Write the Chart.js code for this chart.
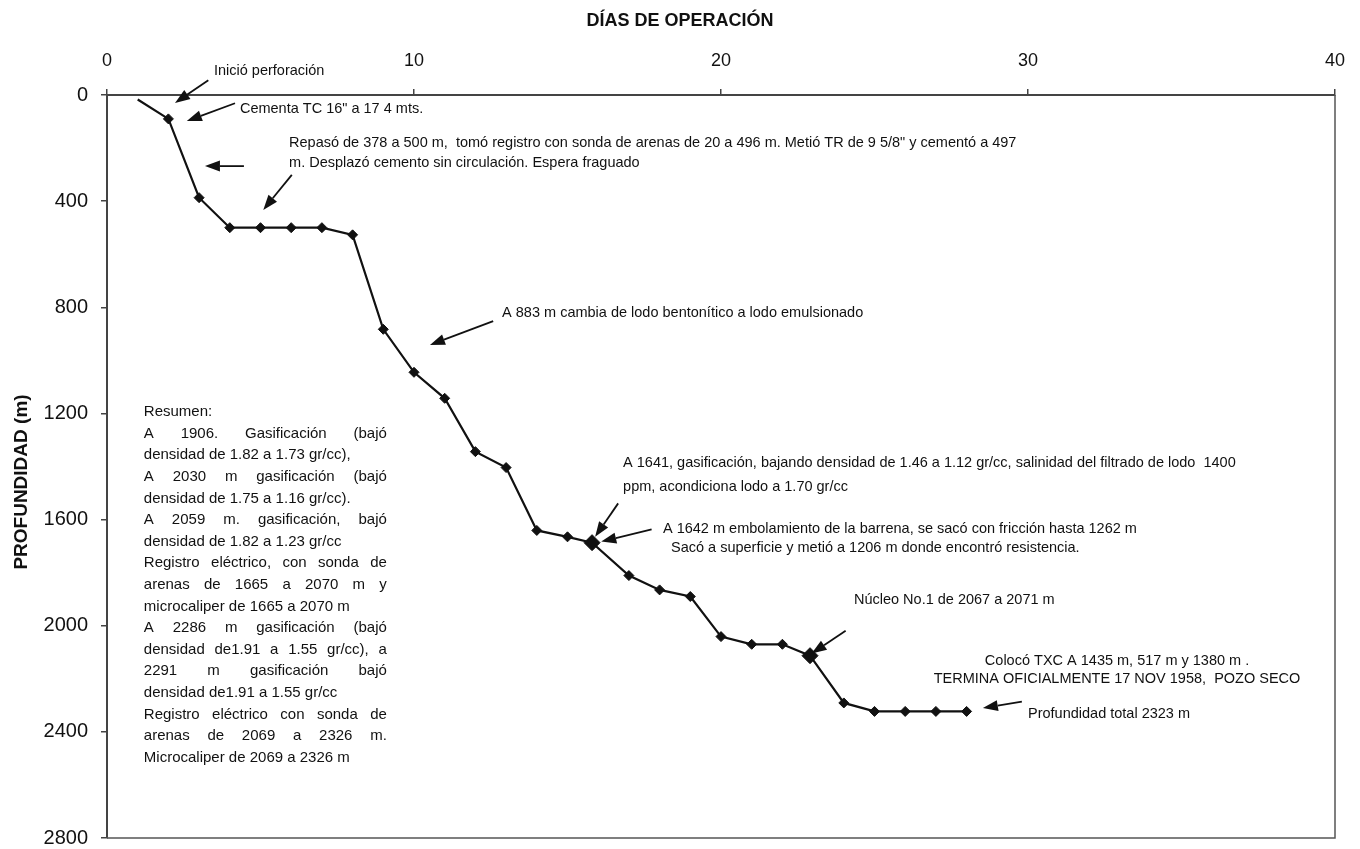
<!DOCTYPE html>
<html>
<head>
<meta charset="utf-8">
<script src="https://cdn.jsdelivr.net/npm/chart.js@4.4.1/dist/chart.umd.min.js"></script>
<style>
  html, body { margin: 0; padding: 0; background: #ffffff; }
  #wrap { width: 1360px; height: 849px; }
</style>
</head>
<body>
<div id="wrap"><canvas id="c" width="1360" height="849"></canvas></div>
<script>
// ---------------- DATA ----------------
const days   = [1, 2, 3, 4, 5, 6, 7, 8, 9, 10, 11, 12, 13, 14, 15, 15.8, 17, 18, 19, 20, 21, 22, 22.9, 24, 25, 26, 27, 28];
const depths = [17, 90, 387, 500, 500, 500, 500, 527, 883, 1045, 1143, 1344, 1404, 1641, 1665, 1687, 1811, 1865, 1890, 2041, 2070, 2070, 2113, 2291, 2323, 2323, 2323, 2323];
const xTickValues = [0, 10, 20, 30, 40];
const yTickValues = [0, 400, 800, 1200, 1600, 2000, 2400, 2800];
const xTitle = 'DÍAS DE OPERACIÓN';
const yTitle = 'PROFUNDIDAD (m)';

const resumenLines = [
  'Resumen:',
  'A 1906. Gasificación (bajó',
  'densidad de 1.82 a 1.73 gr/cc),',
  'A 2030 m gasificación (bajó',
  'densidad de 1.75 a 1.16 gr/cc).',
  'A 2059 m. gasificación, bajó',
  'densidad de 1.82 a 1.23 gr/cc',
  'Registro eléctrico, con sonda de',
  'arenas de 1665 a 2070 m y',
  'microcaliper de 1665 a 2070 m',
  'A 2286 m gasificación (bajó',
  'densidad de1.91 a 1.55 gr/cc), a',
  '2291 m gasificación bajó',
  'densidad de1.91 a 1.55 gr/cc',
  'Registro eléctrico con sonda de',
  'arenas de 2069 a 2326 m.',
  'Microcaliper de 2069 a 2326 m'
];
const resumenJustified = [false, true, false, true, false, true, false, true, true, false, true, true, true, false, true, true, false];

// ---------------- ANNOTATIONS (positions in data units) ----------------
const notes = [
  { x: 3.485, y: -90, lines: ['Inició perforación'] },
  { x: 4.33, y: 52, lines: ['Cementa TC 16" a 17 4 mts.'] },
  { x: 5.93, y: 181, lines: ['Repasó de 378 a 500 m,  tomó registro con sonda de arenas de 20 a 496 m. Metió TR de 9 5/8" y cementó a 497', 'm. Desplazó cemento sin circulación. Espera fraguado'], gap: 75 },
  { x: 12.87, y: 820, lines: ['A 883 m cambia de lodo bentonítico a lodo emulsionado'] },
  { x: 16.81, y: 1386, lines: ['A 1641, gasificación, bajando densidad de 1.46 a 1.12 gr/cc, salinidad del filtrado de lodo  1400', 'ppm, acondiciona lodo a 1.70 gr/cc'], gap: 90 },
  { x: 18.11, y: 1635, lines: ['A 1642 m embolamiento de la barrena, se sacó con fricción hasta 1262 m'] },
  { x: 18.24, y: 1707, lines: [' Sacó a superficie y metió a 1206 m donde encontró resistencia.'] },
  { x: 24.33, y: 1903, lines: ['Núcleo No.1 de 2067 a 2071 m'] },
  { x: 32.9, y: 2132, lines: ['Colocó TXC A 1435 m, 517 m y 1380 m .', 'TERMINA OFICIALMENTE 17 NOV 1958,  POZO SECO'], gap: 70, align: 'center' },
  { x: 30.0, y: 2333, lines: ['Profundidad total 2323 m'] }
];
const arrows = [
  { from: [3.30, -56], to: [2.215, 30] },
  { from: [4.17, 31], to: [2.60, 98] },
  { from: [4.46, 268], to: [3.19, 268] },
  { from: [6.02, 301], to: [5.09, 433] },
  { from: [12.58, 852], to: [10.52, 942] },
  { from: [16.65, 1539], to: [15.9, 1665] },
  { from: [17.74, 1637], to: [16.1, 1683] },
  { from: [24.06, 2019], to: [22.95, 2105] },
  { from: [29.80, 2286], to: [28.53, 2310] }
];

const FONT = '"Liberation Sans", Arial, Helvetica, sans-serif';
const INK = '#111111';
const AXIS = '#444444';
const bigMarkers = [15, 22];

const overlay = {
  id: 'overlay',
  afterDraw(chart) {
    const { ctx, chartArea: a, scales: { x, y } } = chart;
    ctx.save();
    // frame (right and bottom sides)
    ctx.strokeStyle = '#555555';
    ctx.lineWidth = 1.5;
    ctx.beginPath();
    ctx.moveTo(a.right, a.top); ctx.lineTo(a.right, a.bottom); ctx.lineTo(a.left, a.bottom);
    ctx.stroke();

    // axis titles
    ctx.fillStyle = INK;
    ctx.font = 'bold 18px ' + FONT;
    ctx.textAlign = 'center';
    ctx.textBaseline = 'middle';
    ctx.fillText(xTitle, 680, 21);
    ctx.save();
    ctx.translate(22, 482);
    ctx.rotate(-Math.PI / 2);
    ctx.font = 'bold 19px ' + FONT;
    ctx.fillText(yTitle, 0, 0);
    ctx.restore();

    // annotations
    ctx.font = '14.5px ' + FONT;
    ctx.textBaseline = 'middle';
    notes.forEach(n => {
      const px = x.getPixelForValue(n.x);
      const step = (n.gap || 0);
      ctx.textAlign = n.align || 'left';
      n.lines.forEach((t, i) => {
        ctx.fillText(t, px, y.getPixelForValue(n.y + i * step));
      });
    });

    // arrows
    ctx.strokeStyle = INK;
    ctx.lineWidth = 1.8;
    arrows.forEach(ar => {
      const x1 = x.getPixelForValue(ar.from[0]), y1 = y.getPixelForValue(ar.from[1]);
      const x2 = x.getPixelForValue(ar.to[0]), y2 = y.getPixelForValue(ar.to[1]);
      const ang = Math.atan2(y2 - y1, x2 - x1);
      const hl = 15, hw = 5.5;
      const bx = x2 - hl * Math.cos(ang), by = y2 - hl * Math.sin(ang);
      ctx.beginPath();
      ctx.moveTo(x1, y1); ctx.lineTo(bx, by);
      ctx.stroke();
      ctx.beginPath();
      ctx.moveTo(x2, y2);
      ctx.lineTo(bx + hw * Math.sin(ang), by - hw * Math.cos(ang));
      ctx.lineTo(bx - hw * Math.sin(ang), by + hw * Math.cos(ang));
      ctx.closePath();
      ctx.fill();
    });

    // resumen block (justified)
    ctx.font = '15px ' + FONT;
    ctx.textAlign = 'left';
    const rx = x.getPixelForValue(1.2);
    const ry = y.getPixelForValue(1195);
    const rw = 243, lh = 21.6;
    resumenLines.forEach((t, i) => {
      const yy = ry + i * lh;
      if (!resumenJustified[i]) { ctx.fillText(t, rx, yy); return; }
      const words = t.split(/\s+/);
      const wsum = words.reduce((s, w) => s + ctx.measureText(w).width, 0);
      const gap = (rw - wsum) / (words.length - 1);
      let cx = rx;
      words.forEach(w => { ctx.fillText(w, cx, yy); cx += ctx.measureText(w).width + gap; });
    });
    ctx.restore();
  }
};

new Chart(document.getElementById('c'), {
  type: 'scatter',
  data: {
    datasets: [{
      data: days.map((d, i) => ({ x: d, y: depths[i] })),
      showLine: true,
      borderColor: INK,
      borderWidth: 2.2,
      backgroundColor: INK,
      pointStyle: 'rectRot',
      pointRadius: c => c.dataIndex === 0 ? 0 : (bigMarkers.includes(c.dataIndex) ? 8 : 5),
      pointBackgroundColor: INK,
      pointBorderColor: INK,
      pointBorderWidth: 1,
      tension: 0
    }]
  },
  options: {
    responsive: false,
    animation: false,
    layout: { padding: { left: 0, right: 25, top: 0, bottom: 11 } },
    plugins: { legend: { display: false }, tooltip: { enabled: false } },
    scales: {
      x: {
        type: 'linear', position: 'top', min: 0, max: 40,
        afterBuildTicks: s => { s.ticks = xTickValues.map(v => ({ value: v })); },
        afterFit: s => { s.height = 95; s.paddingLeft = 0; s.paddingRight = 0; },
        ticks: { color: INK, font: { family: FONT, size: 18 }, padding: 17, callback: v => String(v) },
        grid: { drawOnChartArea: false, drawTicks: true, tickLength: 6, color: AXIS, lineWidth: 1.5 },
        border: { display: true, color: AXIS, width: 2 }
      },
      y: {
        type: 'linear', reverse: true, min: 0, max: 2800,
        afterBuildTicks: s => { s.ticks = yTickValues.map(v => ({ value: v })); },
        afterFit: s => { s.width = 107; s.paddingTop = 0; s.paddingBottom = 0; },
        ticks: { color: INK, font: { family: FONT, size: 20 }, padding: 13, callback: v => String(v) },
        grid: { drawOnChartArea: false, drawTicks: true, tickLength: 6, color: AXIS, lineWidth: 1.5 },
        border: { display: true, color: AXIS, width: 2 }
      }
    }
  },
  plugins: [overlay]
});
</script>
</body>
</html>
